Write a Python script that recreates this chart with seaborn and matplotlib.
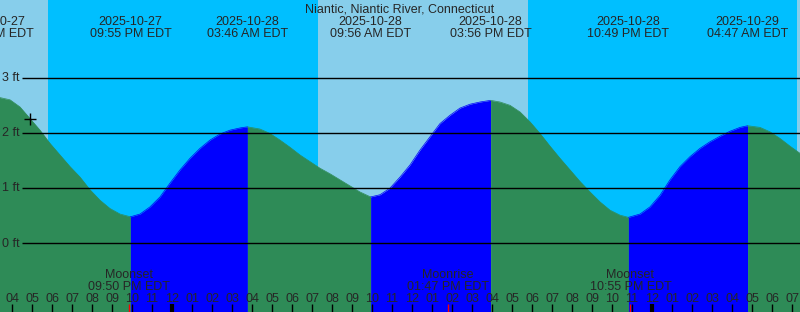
import matplotlib
matplotlib.use("Agg")
import matplotlib.pyplot as plt
import numpy as np
import pandas as pd
import seaborn as sns

# hours since 2025-10-27 00:00 EDT, heights in ft
tide_hours = [15.05, 15.4, 15.9, 16.4, 16.9, 17.4, 17.9, 18.4, 18.9, 19.4, 19.9, 20.4, 20.9, 21.4,
              21.92, 22.4, 22.9, 23.4, 23.9, 24.4, 24.9, 25.4, 25.9, 26.4, 26.9, 27.4,
              27.77, 28.4, 28.9, 29.4, 29.9, 30.4, 30.9, 31.4, 31.9, 32.4, 32.9, 33.4,
              33.93, 34.4, 34.9, 35.4, 35.9, 36.4, 36.9, 37.4, 37.9, 38.4, 38.9, 39.4,
              39.93, 40.4, 40.9, 41.4, 41.9, 42.4, 42.9, 43.4, 43.9, 44.4, 44.9, 45.4, 45.9, 46.4,
              46.82, 47.4, 47.9, 48.4, 48.9, 49.4, 49.9, 50.4, 50.9, 51.4, 51.9, 52.4,
              52.78, 53.4, 53.9, 54.4, 54.9, 55.4]
tide_feet = [2.67, 2.64, 2.60, 2.47, 2.26, 2.05, 1.81, 1.60, 1.39, 1.20, 0.97, 0.78, 0.63, 0.53,
             0.48, 0.53, 0.66, 0.84, 1.09, 1.33, 1.54, 1.72, 1.87, 1.98, 2.05, 2.09,
             2.11, 2.07, 1.99, 1.87, 1.74, 1.60, 1.48, 1.36, 1.26, 1.15, 1.04, 0.93,
             0.84, 0.88, 1.00, 1.20, 1.42, 1.69, 1.93, 2.17, 2.32, 2.45, 2.52, 2.56,
             2.59, 2.56, 2.50, 2.38, 2.20, 1.99, 1.76, 1.54, 1.33, 1.12, 0.93, 0.75, 0.60, 0.51,
             0.47, 0.53, 0.66, 0.87, 1.15, 1.39, 1.57, 1.72, 1.84, 1.94, 2.03, 2.10,
             2.13, 2.10, 2.02, 1.90, 1.76, 1.63]

event_hours = [15.05, 21.92, 27.77, 33.93, 39.93, 46.82, 52.78]
event_kind = ["high", "low", "high", "low", "high", "low", "high"]
event_dates = ["2025-10-27", "2025-10-27", "2025-10-28", "2025-10-28", "2025-10-28", "2025-10-28", "2025-10-29"]
event_times = ["03:03 PM EDT", "09:55 PM EDT", "03:46 AM EDT", "09:56 AM EDT", "03:56 PM EDT",
               "10:49 PM EDT", "04:47 AM EDT"]

sun_hours = [17.8, 31.3, 41.8, 55.27]  # sunset, sunrise, sunset, sunrise
moon_hours = [21.83, 37.78, 46.92]
moon_names = ["Moonset", "Moonrise", "Moonset"]
moon_times = ["09:50 PM EDT", "01:47 PM EDT", "10:55 PM EDT"]

level_feet = [0, 1, 2, 3]
now_hour, now_feet = 16.9, 2.25

title = "Niantic, Niantic River, Connecticut"

x0, x1 = 15.4, 55.4
y0, y1 = -1.245, 4.408
H = 312.0

sns.set_style("white")
plt.rcParams['font.family'] = ['Liberation Sans', 'DejaVu Sans']
plt.rcParams['font.size'] = 9

fig = plt.figure(figsize=(8, 3.12), dpi=100)
ax = fig.add_axes([0, 0, 1, 1])
ax.set_xlim(x0, x1)
ax.set_ylim(y0, y1)
ax.axis("off")

# day / night background
edges = [x0] + sun_hours + [x1]
for i in range(len(edges) - 1):
    ax.axvspan(edges[i], edges[i + 1], color="#87CEEB" if i % 2 == 0 else "#00BFFF", lw=0, zorder=0)

# tide segments: falling (green) / rising (blue)
tide = pd.DataFrame({"hour": tide_hours, "feet": tide_feet})
segs = []
bounds = event_hours + [x1 + 1]
for i in range(len(event_hours)):
    a, b = bounds[i], bounds[i + 1]
    s = tide[(tide.hour >= a - 1e-9) & (tide.hour <= b + 1e-9)].copy()
    s["seg"] = i
    segs.append(s)
    col = "#2E8B57" if event_kind[i] == "high" else "#0000FF"
    ax.fill_between(s.hour, s.feet, y0, color=col, lw=0, zorder=1)
segdf = pd.concat(segs)
pal = {i: ("#2E8B57" if event_kind[i] == "high" else "#0000FF") for i in range(len(event_hours))}
sns.lineplot(data=segdf, x="hour", y="feet", hue="seg", palette=pal, legend=False,
             estimator=None, sort=False, lw=0.5, ax=ax, zorder=2)

# level lines
ax.hlines(level_feet, x0 + 22 / 20, x1, color="black", lw=1, zorder=3)
for f in level_feet:
    ax.text(x0 + 2 / 20, f - 3.4 / 55.2, f"{f} ft", va="baseline", ha="left", fontsize=9, zorder=4)

ax.plot([now_hour], [now_feet], marker="+", ms=9, mew=1, color="black", zorder=4)

tr = ax.get_xaxis_transform()
ax.text((x0 + x1) / 2, 1 - 12.3 / H, title, transform=tr, ha="center", va="baseline", fontsize=9)
for h, d, t in zip(event_hours, event_dates, event_times):
    ax.text(h, 1 - 25 / H, d, transform=tr, ha="center", va="baseline", fontsize=9)
    ax.text(h, 1 - 36.7 / H, t, transform=tr, ha="center", va="baseline", fontsize=9)

for h, n, t in zip(moon_hours, moon_names, moon_times):
    ax.text(h, 1 - 278.5 / H, n, transform=tr, ha="center", va="baseline", fontsize=9, zorder=5)
    ax.text(h, 1 - 290 / H, t, transform=tr, ha="center", va="baseline", fontsize=9, zorder=5)
    ax.vlines(h, 0, 8 / H, transform=tr, color="red", lw=1, zorder=5)

# hour ticks
for h in range(16, 56):
    ax.text(h, 1 - 301.7 / H, f"{(h - 1) % 12 + 1:02d}", transform=tr, ha="center", va="baseline",
            fontsize=9, zorder=5)
    ax.vlines(h, 0, 8 / H, transform=tr, color="black", lw=3 if h % 24 == 0 else 1, zorder=5)

fig.savefig("out.png", dpi=100)
